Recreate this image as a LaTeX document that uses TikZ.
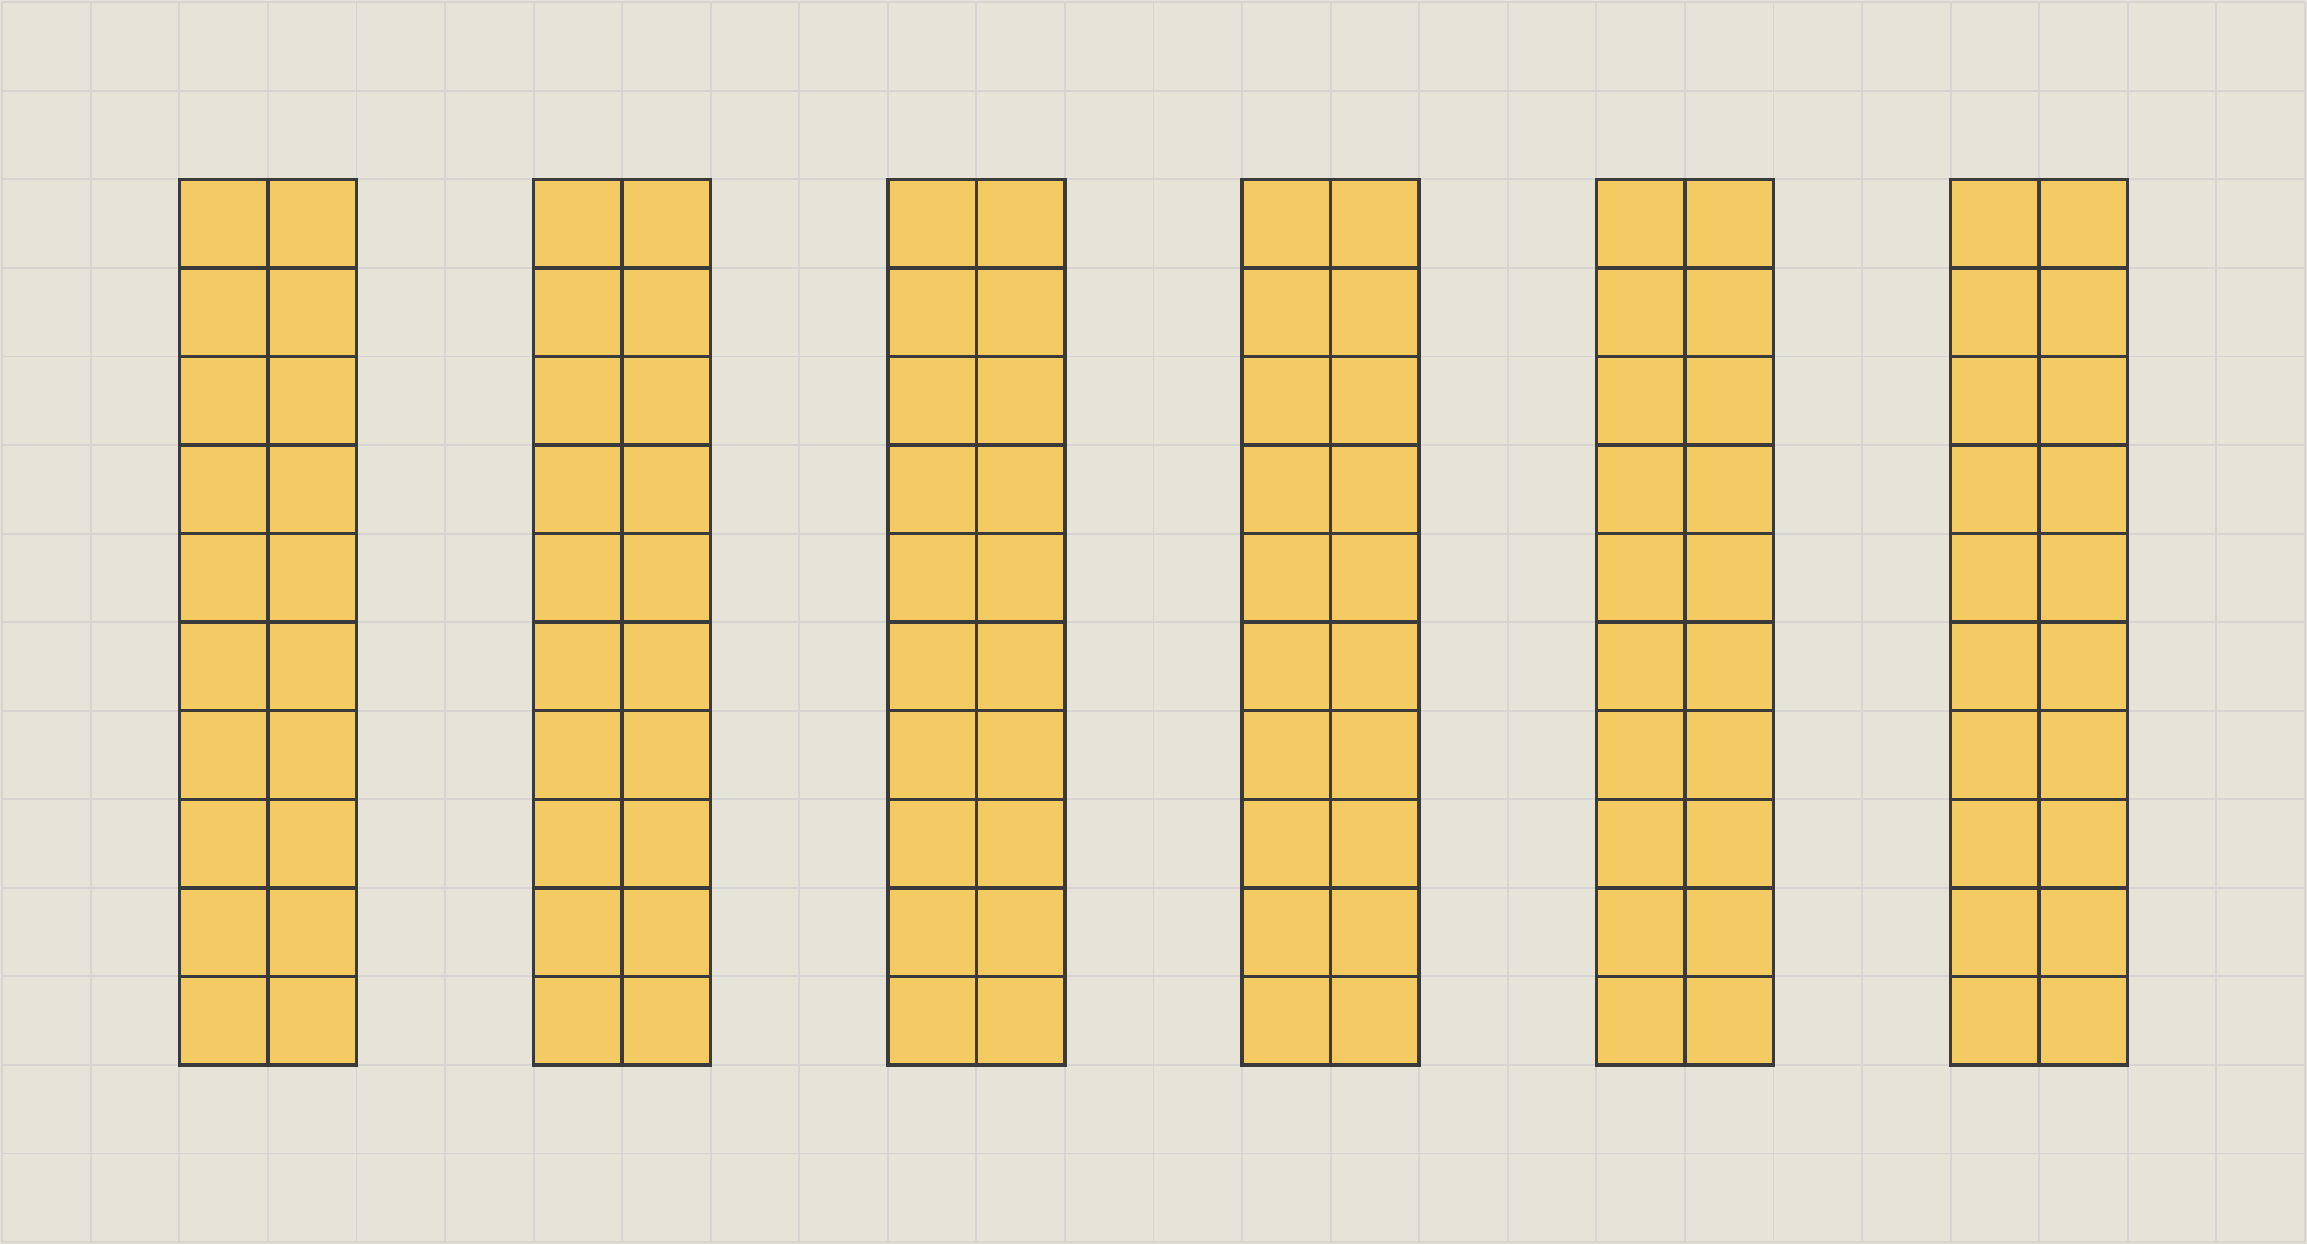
\documentclass[tikz,border=0pt]{standalone}
\usepackage{tikz}
\usetikzlibrary{positioning}
\definecolor{papercol}{RGB}{230,228,217}
\definecolor{gridcol}{RGB}{214,213,210}
\definecolor{blockcol}{RGB}{244,202,98}
\definecolor{edgecol}{RGB}{58,58,58}

\begin{document}
\begin{tikzpicture}[x=1cm,y=1cm]
  \useasboundingbox (-0.025,-0.025) rectangle (26.025,14.025);
  \fill[papercol] (-0.025,-0.025) rectangle (26.025,14.025);
  \draw[gridcol,line width=0.6pt] (0,0) grid (26,14);
  % six columns of 2x10 blocks
  \foreach \c in {2,6,10,14,18,22} {
    \fill[blockcol] (\c,2) rectangle (\c+2,12);
    \draw[edgecol,line width=1.1pt] (\c,2) grid (\c+2,12);
    \draw[edgecol,line width=1.1pt] (\c,2) rectangle (\c+2,12);
  }
\end{tikzpicture}
\end{document}
